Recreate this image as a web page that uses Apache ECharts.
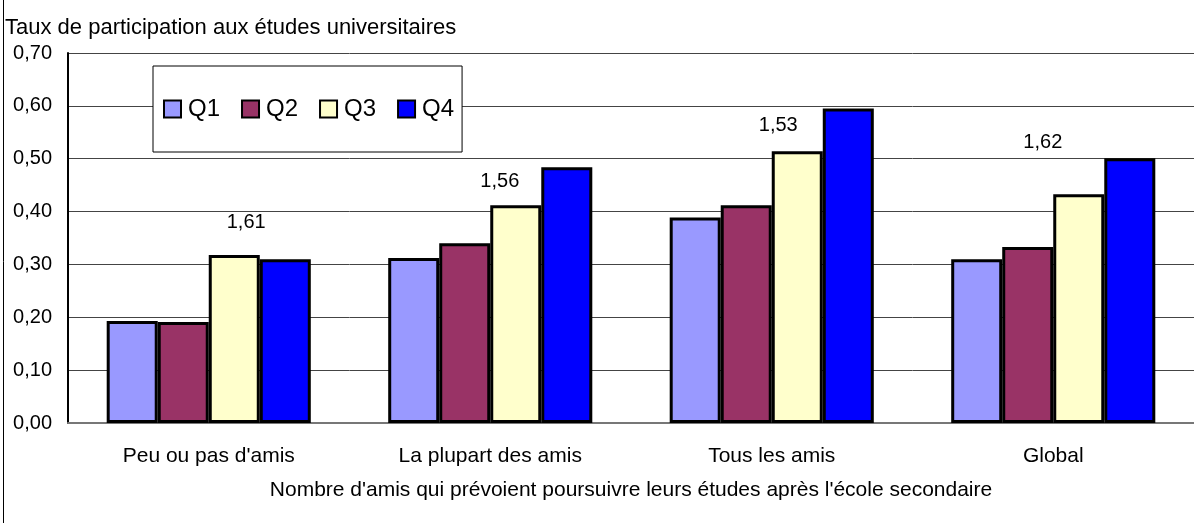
<!DOCTYPE html>
<html>
<head>
<meta charset="utf-8">
<script src="https://cdn.jsdelivr.net/npm/echarts@6/dist/echarts.min.js"></script>
<style>
  html, body { margin: 0; padding: 0; background: #fff; }
  #chart { width: 1194px; height: 523px; }
</style>
</head>
<body>
<div id="chart"></div>
<script>
var chart = echarts.init(document.getElementById('chart'));

// categories along the x axis
var categories = ["Peu ou pas d'amis", 'La plupart des amis', 'Tous les amis', 'Global'];
// participation rate by income quartile
var q1 = [0.193, 0.312, 0.389, 0.310];
var q2 = [0.191, 0.340, 0.412, 0.333];
var q3 = [0.318, 0.412, 0.514, 0.433];
var q4 = [0.310, 0.484, 0.595, 0.501];
// Q4/Q1 ratio annotations and where they sit (x in category units, y in axis units)
var ratioText = ['1,61', '1,56', '1,53', '1,62'];
var ratioX = [0.633, 1.534, 2.523, 3.463];
var ratioY = [0.380, 0.456, 0.563, 0.531];

var fontFamily = '"Liberation Sans", Arial, sans-serif';
var colors = ['#9999FF', '#993366', '#FFFFCC', '#0000FF'];

function fmt(v) {
    return v.toFixed(2).replace('.', ',');
}

function barSeries(name, values, color) {
    return {
        name: name,
        type: 'bar',
        data: values,
        barGap: '0%',
        barCategoryGap: '27.5%',
        itemStyle: { color: color, borderColor: '#000', borderWidth: 3 }
    };
}

var option = {
    animation: false,
    textStyle: { fontFamily: fontFamily, color: '#000' },
    grid: { left: 68, top: 53, right: -6, bottom: 100 },
    legend: {
        left: 153,
        top: 66,
        padding: [31, 8, 31, 10],
        backgroundColor: '#fff',
        borderColor: '#000',
        borderWidth: 1,
        itemWidth: 17,
        itemHeight: 17,
        itemGap: 21,
        icon: 'rect',
        itemStyle: { borderColor: '#000', borderWidth: 2 },
        textStyle: { fontSize: 24, color: '#000', fontFamily: fontFamily, padding: [0, 0, 0, 2] },
        data: ['Q1', 'Q2', 'Q3', 'Q4']
    },
    xAxis: [{
        type: 'category',
        data: categories,
        name: "Nombre d'amis qui prévoient poursuivre leurs études après l'école secondaire",
        nameLocation: 'middle',
        nameGap: 57,
        nameTextStyle: { fontSize: 21, color: '#000' },
        axisLine: { lineStyle: { color: '#777', width: 2 } },
        axisTick: { inside: true, length: 6, lineStyle: { color: '#555' } },
        axisLabel: { fontSize: 21, color: '#000', margin: 23 }
    }, {
        type: 'value',
        min: 0,
        max: 4,
        show: false
    }],
    yAxis: {
        type: 'value',
        min: 0,
        max: 0.7,
        interval: 0.1,
        axisLine: { show: true, lineStyle: { color: '#000', width: 2 } },
        axisTick: { show: false },
        axisLabel: { fontSize: 20, color: '#000', margin: 16, formatter: fmt },
        splitLine: { lineStyle: { color: '#444', width: 1 } }
    },
    graphic: [{
        type: 'text',
        left: 5,
        top: 17,
        style: {
            text: 'Taux de participation aux études universitaires',
            font: '22px ' + fontFamily,
            fill: '#000'
        }
    }, {
        type: 'line',
        shape: { x1: 3.5, y1: 0, x2: 3.5, y2: 523 },
        style: { stroke: '#000', lineWidth: 1 }
    }],
    series: [
        barSeries('Q1', q1, colors[0]),
        barSeries('Q2', q2, colors[1]),
        barSeries('Q3', q3, colors[2]),
        barSeries('Q4', q4, colors[3]),
        {
            name: 'ratio',
            type: 'scatter',
            xAxisIndex: 1,
            symbolSize: 0,
            silent: true,
            itemStyle: { opacity: 1 },
            data: ratioX.map(function (x, i) { return [x, ratioY[i]]; }),
            label: {
                show: true,
                position: 'inside',
                fontSize: 20,
                color: '#000',
                textBorderWidth: 0,
                formatter: function (p) { return ratioText[p.dataIndex]; }
            }
        }
    ]
};
chart.setOption(option);
</script>
</body>
</html>
